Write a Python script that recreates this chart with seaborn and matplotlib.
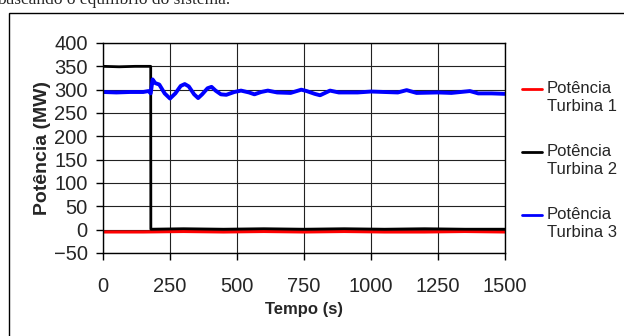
import pandas as pd
import matplotlib.pyplot as plt
import seaborn as sns
from matplotlib.lines import Line2D
from matplotlib.patches import Rectangle

# dados (tempo em s, potencia em MW)
t_turb1 = [0, 150, 300, 450, 600, 750, 900, 1050, 1200, 1350, 1500]
p_turb1 = [-5, -5, -4, -5, -4, -5, -4, -5, -5, -4, -5]

t_turb2 = [0, 60, 120, 178, 178.5, 300, 450, 600, 750, 900, 1050, 1200, 1350, 1500]
p_turb2 = [350, 349, 350, 350, 1, 2, 1, 2, 1, 2, 1, 2, 1, 1]

t_turb3 = [0, 50, 100, 150, 170, 178, 185, 195, 210, 230, 250, 270, 290, 305, 320,
           340, 355, 370, 390, 405, 420, 440, 460, 490, 515, 545, 565, 590, 615,
           650, 700, 740, 760, 790, 810, 847, 880, 950, 1000, 1050, 1100, 1133,
           1170, 1250, 1300, 1369, 1400, 1450, 1500]
p_turb3 = [295, 294, 295, 295, 297, 292, 322, 314, 311, 292, 281, 292, 308, 312, 307,
           290, 282, 290, 303, 306, 298, 290, 289, 295, 298, 294, 290, 295, 298,
           294, 293, 300, 297, 291, 288, 298, 294, 294, 296, 295, 294, 299,
           293, 294, 293, 297, 292, 292, 291]

nomes = ["Potência\nTurbina 1", "Potência\nTurbina 2", "Potência\nTurbina 3"]
cores = ["#ff0000", "#000000", "#0000ff"]

x_ticks = [0, 250, 500, 750, 1000, 1250, 1500]
y_ticks = [-50, 0, 50, 100, 150, 200, 250, 300, 350, 400]

sns.set_theme(style="white")
plt.rcParams['font.family'] = ['Liberation Sans', 'DejaVu Sans']

fig = plt.figure(figsize=(6.24, 3.36), dpi=100)
ax = fig.add_axes([103 / 624, 1 - 253 / 336, 402 / 624, 210 / 336])

# caixa externa do documento
fig.add_artist(Rectangle((9 / 624, -0.1), 1.2, 1 - 13 / 336 + 0.1, transform=fig.transFigure,
                         fill=False, edgecolor="black", lw=1.0))
# linha de texto do documento, cortada no topo como na digitalizacao
fig.text(-3 / 624, 1 - 4.5 / 336, "buscando o equilíbrio do sistema.",
         family=['Liberation Serif', 'DejaVu Serif'], fontsize=12.5, va='baseline', ha='left')

sns.lineplot(x=t_turb1, y=p_turb1, ax=ax, color=cores[0], lw=2.2)
sns.lineplot(x=t_turb2, y=p_turb2, ax=ax, color=cores[1], lw=2.0)
sns.lineplot(x=t_turb3, y=p_turb3, ax=ax, color=cores[2], lw=2.8)

ax.set_xlim(0, 1500)
ax.set_ylim(-50, 400)
ax.set_xticks(x_ticks)
ax.set_yticks(y_ticks)
ax.grid(True, color="#222222", lw=0.8)
for s in ax.spines.values():
    s.set_color("black")
    s.set_linewidth(1.0)
ax.tick_params(axis='both', direction='out', length=5, width=1, color='black', labelsize=14.5)
ax.tick_params(axis='y', left=True, pad=6)
ax.tick_params(axis='x', bottom=True, pad=12)

ax.set_xlabel("Tempo (s)", fontsize=12, fontweight='bold')
ax.set_ylabel("Potência (MW)", fontsize=14, fontweight='bold')
ax.xaxis.set_label_coords(0.5, (253 - 302) / 210)
ax.yaxis.set_label_coords((51 - 103) / 402, 0.5)

# legenda desenhada a mao, como no Excel
leg_y = [89, 152, 215]
for nome, cor, yy in zip(nomes, cores, leg_y):
    yf = 1 - yy / 336
    fig.add_artist(Line2D([522 / 624, 542 / 624], [yf, yf], transform=fig.transFigure,
                          color=cor, lw=2.0))
    fig.text(547 / 624, yf + 8 / 336, nome, fontsize=12, va='top', ha='left', linespacing=1.25)

fig.savefig("out.png", dpi=100)
